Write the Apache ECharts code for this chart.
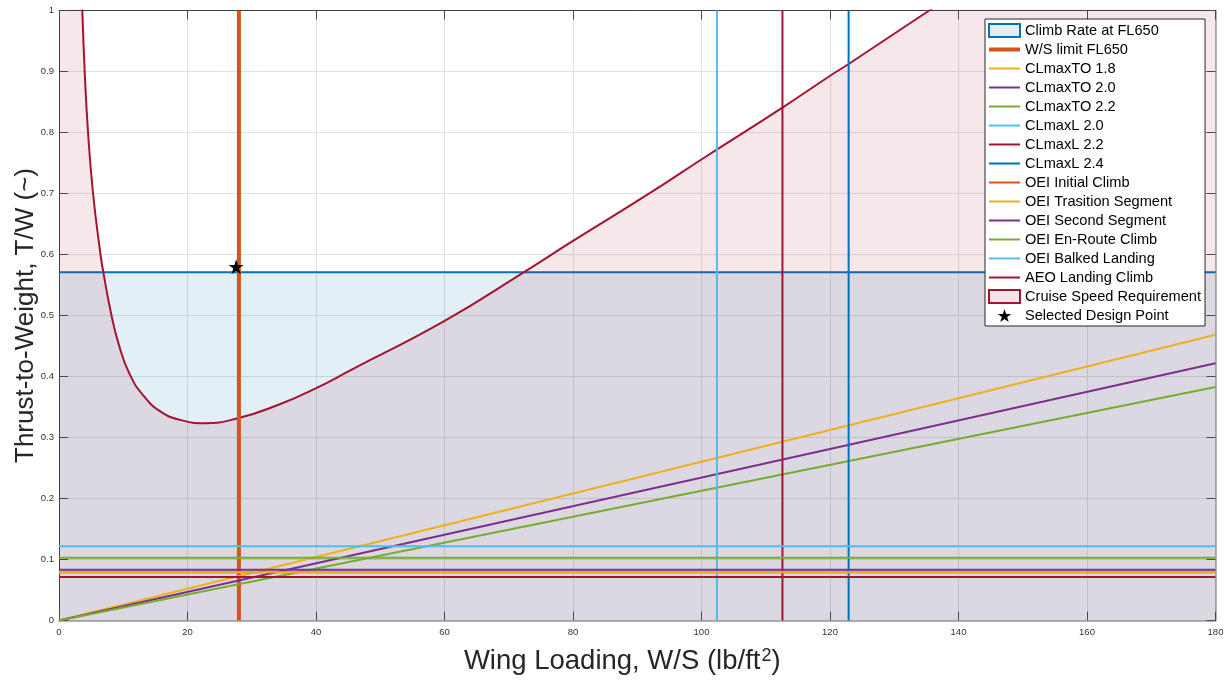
<!DOCTYPE html>
<html>
<head>
<meta charset="utf-8">
<script src="https://cdn.jsdelivr.net/npm/echarts@6/dist/echarts.min.js"></script>
<style>html,body{margin:0;padding:0;background:#fff}#c{width:1227px;height:682px}</style>
</head>
<body>
<div id="c"></div>
<script>
// ---------------- data ----------------
const wsRange = [0, 180];                       // x-axis extent of full-width lines
const climbRateTW = 0.5708;                     // Climb Rate at FL650
const wsLimitFL650 = 28.0;                      // W/S limit FL650
const clmaxTONames = ['CLmaxTO 1.8', 'CLmaxTO 2.0', 'CLmaxTO 2.2'];
const clmaxTOEndTW = [0.4685, 0.4216, 0.3828];  // T/W at W/S = 180 (lines start at origin)
const clmaxLNames = ['CLmaxL 2.0', 'CLmaxL 2.2', 'CLmaxL 2.4'];
const clmaxLWS = [102.4, 112.6, 122.9];
const climbNames = ['OEI Initial Climb', 'OEI Trasition Segment', 'OEI Second Segment',
                    'OEI En-Route Climb', 'OEI Balked Landing', 'AEO Landing Climb'];
const climbTW = [0.0790, 0.0790, 0.0833, 0.1030, 0.1216, 0.0713];
const cruiseWS = [0, 1, 2, 2.8, 3.63, 4.0, 4.52, 5.3, 6.46, 6.90, 8.10, 9.40, 10.95, 13.04, 15.89, 19.0,
                  22.63, 27.83, 34.07, 40.03, 45.33, 60.08, 72.32, 80.06, 92.06, 100.1, 112.66,
                  120.2, 122.9, 135.56, 150, 165, 180];
const cruiseTW = [9.0, 3.6, 1.8, 1.3, 1.0, 0.9, 0.8, 0.7, 0.6, 0.571, 0.5036, 0.449, 0.405, 0.370, 0.342, 0.3285,
                  0.3235, 0.3315, 0.3533, 0.381, 0.410, 0.4915, 0.5708, 0.6226, 0.7013, 0.7566, 0.8413,
                  0.8943, 0.9123, 1.0008, 1.10, 1.205, 1.31];
const designPoint = [27.57, 0.580];

// ---------------- styles ----------------
const FONT = "'Liberation Sans', Arial, Helvetica, sans-serif";
const C = { blue: '#0072BD', orange: '#D95319', yellow: '#EDB120', purple: '#7E2F8E',
            green: '#77AC30', cyan: '#4DBEEE', red: '#A2142F' };
const toColors = [C.yellow, C.purple, C.green];
const lColors = [C.cyan, C.red, C.blue];
const climbColors = [C.orange, C.yellow, C.purple, C.green, C.cyan, C.red];
const STAR = 'path://M50,0 L61.23,34.55 L97.55,34.55 L68.17,55.9 L79.39,90.45 L50,69.1 L20.61,90.45 L31.83,55.9 L2.45,34.55 L38.77,34.55 Z';
const LINE_ICON = 'path://M0,0H31V2H0Z';
const THICK_ICON = 'path://M0,0H31V4H0Z';

const series = [];
const legendData = [];

// Climb rate fill
series.push({
  name: 'Climb Rate at FL650', type: 'line', symbol: 'none', z: 1,
  data: wsRange.map(x => [x, climbRateTW]),
  lineStyle: { color: C.blue, width: 2 }, itemStyle: { color: C.blue },
  areaStyle: { color: C.blue, opacity: 0.115 }
});
legendData.push({ name: 'Climb Rate at FL650', icon: 'rect',
  itemStyle: { color: '#E1EEF8', borderColor: C.blue, borderWidth: 2 } });

// Cruise speed requirement (fill below curve)
series.push({
  name: 'Cruise Speed Requirement', type: 'line', symbol: 'none', z: 2,
  smooth: 0.5,
  data: cruiseWS.map((x, i) => [x, cruiseTW[i]]),
  lineStyle: { color: C.red, width: 2 }, itemStyle: { color: C.red },
  areaStyle: { color: C.red, opacity: 0.1 }
});

// W/S limit
series.push({
  name: 'W/S limit FL650', type: 'line', symbol: 'none', z: 3,
  data: [[wsLimitFL650, 0], [wsLimitFL650, 1]],
  lineStyle: { color: C.orange, width: 4 }, itemStyle: { color: C.orange }
});
legendData.push({ name: 'W/S limit FL650', icon: THICK_ICON, itemStyle: { color: C.orange, borderWidth: 0 } });

clmaxTONames.forEach((n, i) => {
  series.push({ name: n, type: 'line', symbol: 'none', z: 3,
    data: [[wsRange[0], 0], [wsRange[1], clmaxTOEndTW[i]]],
    lineStyle: { color: toColors[i], width: 2 }, itemStyle: { color: toColors[i] } });
  legendData.push({ name: n, icon: LINE_ICON, itemStyle: { color: toColors[i], borderWidth: 0 } });
});
clmaxLNames.forEach((n, i) => {
  series.push({ name: n, type: 'line', symbol: 'none', z: 3,
    data: [[clmaxLWS[i], 0], [clmaxLWS[i], 1]],
    lineStyle: { color: lColors[i], width: 2 }, itemStyle: { color: lColors[i] } });
  legendData.push({ name: n, icon: LINE_ICON, itemStyle: { color: lColors[i], borderWidth: 0 } });
});
climbNames.forEach((n, i) => {
  series.push({ name: n, type: 'line', symbol: 'none', z: 3,
    data: wsRange.map(x => [x, climbTW[i]]),
    lineStyle: { color: climbColors[i], width: 2 }, itemStyle: { color: climbColors[i] } });
  legendData.push({ name: n, icon: LINE_ICON, itemStyle: { color: climbColors[i], borderWidth: 0 } });
});
legendData.push({ name: 'Cruise Speed Requirement', icon: 'rect',
  itemStyle: { color: '#F4E4E8', borderColor: C.red, borderWidth: 2 } });

series.push({
  name: 'Selected Design Point', type: 'scatter', z: 5,
  symbol: STAR, symbolSize: 15, data: [designPoint],
  itemStyle: { color: '#000', opacity: 1 }
});
legendData.push({ name: 'Selected Design Point', icon: STAR, itemStyle: { color: '#000', borderWidth: 0 } });

const axisLabelStyle = { fontFamily: FONT, fontSize: 9.5, color: '#333' };
const tickStyle = { inside: true, length: 9, lineStyle: { color: '#4a4a4a', width: 1 } };

const option = {
  animation: false,
  backgroundColor: '#fff',
  textStyle: { fontFamily: FONT },
  grid: { left: 59, right: 11.5, top: 10.5, bottom: 61.5, containLabel: false },
  legend: {
    orient: 'vertical', left: 985, top: 19,
    padding: [3, 4, 2, 3], itemWidth: 31, itemHeight: 13, itemGap: 2,
    backgroundColor: '#fff', borderColor: '#262626', borderWidth: 1, borderRadius: 0,
    selectedMode: false, symbolKeepAspect: true,
    textStyle: { fontFamily: FONT, fontSize: 14.6, color: '#000', lineHeight: 17 },
    data: legendData
  },
  xAxis: [{
    type: 'value', min: 0, max: 180, interval: 20, position: 'bottom',
    axisLine: { show: true, onZero: false, lineStyle: { color: '#9c9c9c', width: 1.5 } },
    axisTick: tickStyle,
    axisLabel: Object.assign({ margin: 7 }, axisLabelStyle),
    splitLine: { show: true, lineStyle: { color: '#e0e0e0', width: 1 } },
    name: 'Wing Loading, W/S (lb/ft{sup|2})', nameLocation: 'middle', nameGap: 27,
    nameMoveOverlap: false,
    nameTextStyle: { fontFamily: FONT, fontSize: 27.5, color: '#262626', padding: [0, 30, 0, 0],
      rich: { sup: { fontFamily: FONT, fontSize: 18, color: '#262626', verticalAlign: 'top', padding: [0, 0, 0, 1] } } }
  }, {
    type: 'value', min: 0, max: 180, interval: 20, position: 'top',
    axisLine: { show: true, onZero: false, lineStyle: { color: '#404040', width: 1 } },
    axisTick: tickStyle, axisLabel: { show: false }, splitLine: { show: false }
  }],
  yAxis: [{
    type: 'value', min: 0, max: 1, interval: 0.1, position: 'left',
    axisLine: { show: true, onZero: false, lineStyle: { color: '#404040', width: 1 } },
    axisTick: tickStyle,
    axisLabel: Object.assign({ margin: 5 }, axisLabelStyle),
    splitLine: { show: true, lineStyle: { color: '#e0e0e0', width: 1 } },
    name: 'Thrust-to-Weight, T/W (~)', nameLocation: 'middle', nameGap: 20,
    nameMoveOverlap: false,
    nameTextStyle: { fontFamily: FONT, fontSize: 26, color: '#262626' }
  }, {
    type: 'value', min: 0, max: 1, interval: 0.1, position: 'right',
    axisLine: { show: true, onZero: false, lineStyle: { color: '#9c9c9c', width: 1.5 } },
    axisTick: tickStyle, axisLabel: { show: false }, splitLine: { show: false }
  }],
  series: series
};

const chart = echarts.init(document.getElementById('c'), null, { renderer: 'canvas' });
chart.setOption(option);
</script>
</body>
</html>
